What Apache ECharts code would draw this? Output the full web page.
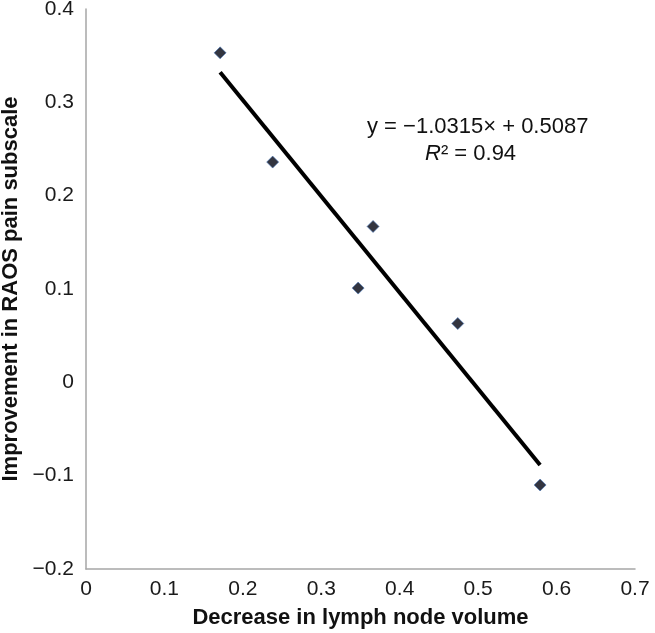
<!DOCTYPE html>
<html>
<head>
<meta charset="utf-8">
<script src="https://cdn.jsdelivr.net/npm/echarts@6/dist/echarts.min.js"></script>
<style>
html,body{margin:0;padding:0;background:#fff;}
#chart{width:655px;height:633px;}
</style>
</head>
<body>
<div id="chart"></div>
<script>
var xValues = [0.171, 0.238, 0.347, 0.366, 0.474, 0.579];
var yValues = [0.353, 0.236, 0.101, 0.167, 0.063, -0.110];
var slope = -1.0315;
var intercept = 0.5087;
var rSquared = '0.94';
var xTicks = [0, 0.1, 0.2, 0.3, 0.4, 0.5, 0.6, 0.7];
var yTicks = [-0.2, -0.1, 0, 0.1, 0.2, 0.3, 0.4];
var xTitle = 'Decrease in lymph node volume';
var yTitle = 'Improvement in RAOS pain subscale';

var points = xValues.map(function (x, i) { return [x, yValues[i]]; });
var xMin = Math.min.apply(null, xValues);
var xMax = Math.max.apply(null, xValues);
var trend = [[xMin, slope * xMin + intercept], [xMax, slope * xMax + intercept]];

function fmt(v) {
  var s = String(Math.round(v * 10) / 10);
  return s.replace('-', '\u2212');
}

var chart = echarts.init(document.getElementById('chart'));
var font = 'Liberation Sans, Arial, sans-serif';
chart.setOption({
  animation: false,
  grid: { left: 86, right: 20, top: 9, bottom: 64, containLabel: false, outerBoundsMode: 'none' },
  xAxis: {
    type: 'value', min: xTicks[0], max: xTicks[xTicks.length - 1], interval: 0.1,
    axisLine: { onZero: false, lineStyle: { color: '#a6a6a6', width: 1.5 } },
    axisTick: { show: false },
    splitLine: { show: false },
    axisLabel: { formatter: fmt, color: '#1a1a1a', fontSize: 21, fontFamily: font, margin: 10 },
    name: xTitle, nameLocation: 'middle', nameGap: 38,
    nameTextStyle: { fontWeight: 'bold', fontSize: 22, color: '#111', fontFamily: font }
  },
  yAxis: {
    type: 'value', min: yTicks[0], max: yTicks[yTicks.length - 1], interval: 0.1,
    axisLine: { show: true, onZero: false, lineStyle: { color: '#a6a6a6', width: 1.5 } },
    axisTick: { show: false },
    splitLine: { show: false },
    axisLabel: { formatter: fmt, color: '#1a1a1a', fontSize: 21, fontFamily: font, margin: 12 },
    name: yTitle, nameLocation: 'middle', nameGap: 63,
    nameTextStyle: { fontWeight: 'bold', fontSize: 22, color: '#111', fontFamily: font }
  },
  series: [
    {
      type: 'line', data: trend, symbol: 'none', silent: true,
      lineStyle: { color: '#000', width: 4 }, z: 2
    },
    {
      type: 'scatter', data: points, symbol: 'diamond', symbolSize: 12,
      itemStyle: { color: '#000310', borderColor: '#4a78b8', borderWidth: 0.8 }, z: 3
    }
  ],
  graphic: [
    {
      type: 'text', left: 367, top: 116,
      style: {
        text: 'y = \u22121.0315\u00d7 + 0.5087',
        fontSize: 22, fontFamily: font, fill: '#111'
      }
    },
    {
      type: 'text', left: 425, top: 143,
      style: {
        text: '{i|R}\u00b2 = ' + rSquared,
        fontSize: 22, fontFamily: font, fill: '#111',
        rich: { i: { fontStyle: 'italic', fontSize: 22, fontFamily: font, fill: '#111' } }
      }
    }
  ]
});
</script>
</body>
</html>
